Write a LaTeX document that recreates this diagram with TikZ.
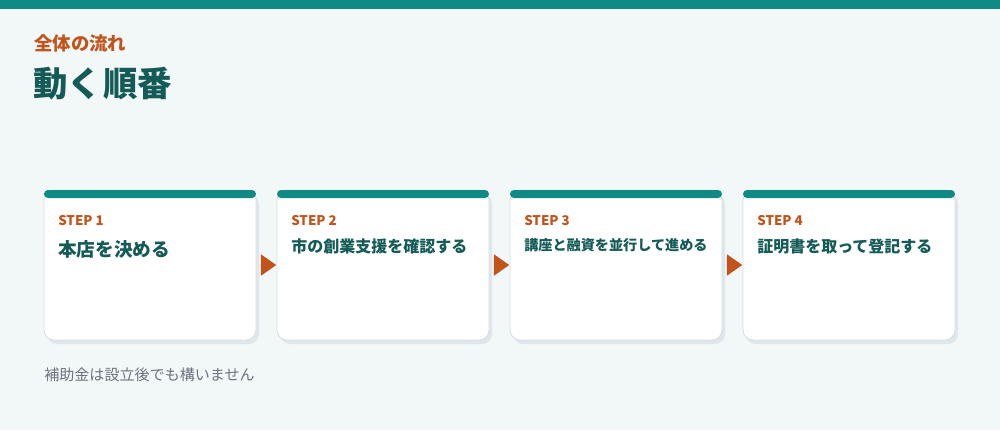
\documentclass[tikz,border=0pt]{standalone}
\usepackage{fontspec}
\usepackage{tikz}
\usetikzlibrary{shapes.geometric, positioning}
\newfontfamily\jpfont{Noto Sans CJK JP}
\definecolor{bgcol}{HTML}{F2F7F7}
\definecolor{tealbar}{HTML}{0F8A85}
\definecolor{darkteal}{HTML}{145B57}
\definecolor{orangecol}{HTML}{C2531B}
\definecolor{graytext}{HTML}{6B7380}
\definecolor{cardline}{HTML}{D6DFE4}
\definecolor{shadowcol}{HTML}{DFE6EC}
\tikzstyle{card} = [rectangle, rounded corners=7.5pt, minimum width=159pt, minimum height=112.5pt, draw=cardline, line width=0.6pt, fill=white, inner sep=0pt]
\tikzstyle{cardshadow} = [rectangle, rounded corners=7.5pt, minimum width=159pt, minimum height=112.5pt, fill=shadowcol, inner sep=0pt]
\tikzstyle{cardbar} = [rectangle, rounded corners=3pt, minimum width=159pt, minimum height=6pt, fill=tealbar, inner sep=0pt]
\tikzstyle{steplabel} = [anchor=west, inner sep=0pt, text=orangecol, font=\jpfont\bfseries\fontsize{10pt}{12pt}\selectfont]
\tikzstyle{steptitle} = [anchor=west, inner sep=0pt, text=darkteal, font=\jpfont\bfseries]
\tikzstyle{flowtri} = [isosceles triangle, isosceles triangle apex angle=70, fill=orangecol, minimum height=11.5pt, inner sep=0pt]

\begin{document}
\begin{tikzpicture}[x=0.75pt, y=-0.75pt]
	\fill[bgcol] (0,0) rectangle (1000,430);
	\useasboundingbox (0,0) rectangle (1000,430);
	\fill[tealbar] (0,0) rectangle (1000,9);

	\node[anchor=west, inner sep=0pt, text=orangecol, font=\jpfont\bfseries\fontsize{13.8pt}{16pt}\selectfont](kicker) at (34,43){全体の流れ};
	\node[anchor=west, inner sep=0pt, text=darkteal, font=\jpfont\bfseries\fontsize{25.8pt}{30pt}\selectfont](heading) at (33,84){動く\kern1pt 順番};

	\foreach \i/\x in {1/150, 2/383, 3/616, 4/849}{
		\node[cardshadow] at (\x+3,269){};
		\node[card](s\i) at (\x,265){};
		\node[cardbar](bar\i) at (\x,194){};
		\node[steplabel](lab\i) at (\x-92,221){STEP \i};
	}

	\node[steptitle, font=\jpfont\bfseries\fontsize{14pt}{17pt}\selectfont](t1) at (58,249){本店を決める};
	\node[steptitle, font=\jpfont\bfseries\fontsize{12pt}{15pt}\selectfont](t2) at (291,246){市の創業支援を確認する};
	\node[steptitle, font=\jpfont\bfseries\fontsize{10.6pt}{13pt}\selectfont](t3) at (524,245){講座と融資を並行して進める};
	\node[steptitle, font=\jpfont\bfseries\fontsize{12pt}{15pt}\selectfont](t4) at (757,246){証明書を取って登記する};

	\path (s1.east) -- node[flowtri]{} (s2.west);
	\path (s2.east) -- node[flowtri]{} (s3.west);
	\path (s3.east) -- node[flowtri]{} (s4.west);

	\node[anchor=west, inner sep=0pt, text=graytext, font=\jpfont\fontsize{11.3pt}{13pt}\selectfont](note) at (44,375){補助金は設立後でも構いません};
\end{tikzpicture}
\end{document}
